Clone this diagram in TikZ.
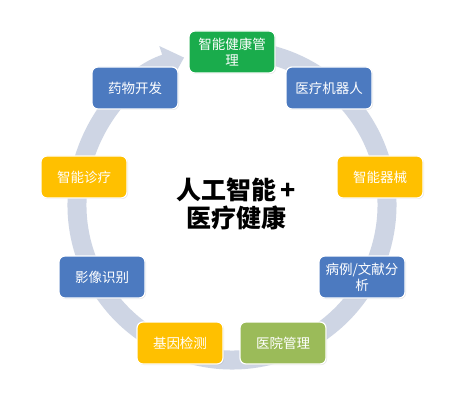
\documentclass[tikz,border=0pt]{standalone}
\usepackage{fontspec}
\setmainfont{Noto Sans CJK SC}
\usetikzlibrary{arrows.meta,shadows}
\definecolor{ringc}{RGB}{206,213,228}
\definecolor{gbox}{RGB}{26,172,76}
\definecolor{bbox}{RGB}{76,122,192}
\definecolor{ybox}{RGB}{255,192,0}
\definecolor{obox}{RGB}{155,187,89}
\begin{document}
\begin{tikzpicture}[x=1pt,y=1pt,
  box/.style={draw=white, line width=1.2pt, rounded corners=6pt,
    minimum width=86pt, minimum height=42pt, inner sep=0pt,
    text=white, align=center, font=\fontsize{13.5}{16}\selectfont,
    drop shadow={opacity=0.2, shadow xshift=1pt, shadow yshift=-1pt}},
  ring/.style={draw=ringc, line width=19pt}]
\useasboundingbox (0,0) rectangle (475,400);
\fill[white] (0,0) rectangle (475,400);
\coordinate (c) at (232,195);
\draw[ring, -{Triangle[length=20pt,width=36pt]}] ([shift={(80:155)}]c) arc[start angle=80, end angle=-252, radius=155];
\node[box, fill=gbox] (n1) at (232,348) {智能健康管\\理};
\node[box, fill=bbox] (n2) at (329,312) {医疗机器人};
\node[box, fill=ybox] (n3) at (380,223) {智能器械};
\node[box, fill=bbox] (n4) at (362,123) {病例/文献分\\析};
\node[box, fill=obox] (n5) at (283,57) {医院管理};
\node[box, fill=ybox] (n6) at (180,57) {基因检测};
\node[box, fill=bbox] (n7) at (102,123) {影像识别};
\node[box, fill=ybox] (n8) at (84,223) {智能诊疗};
\node[box, fill=bbox] (n9) at (135,312) {药物开发};
\node[align=center, font=\fontsize{25}{28}\selectfont\bfseries] (ctr) at (236,196) {人工智能\hspace{4pt}+\\医疗健康};
\end{tikzpicture}
\end{document}
